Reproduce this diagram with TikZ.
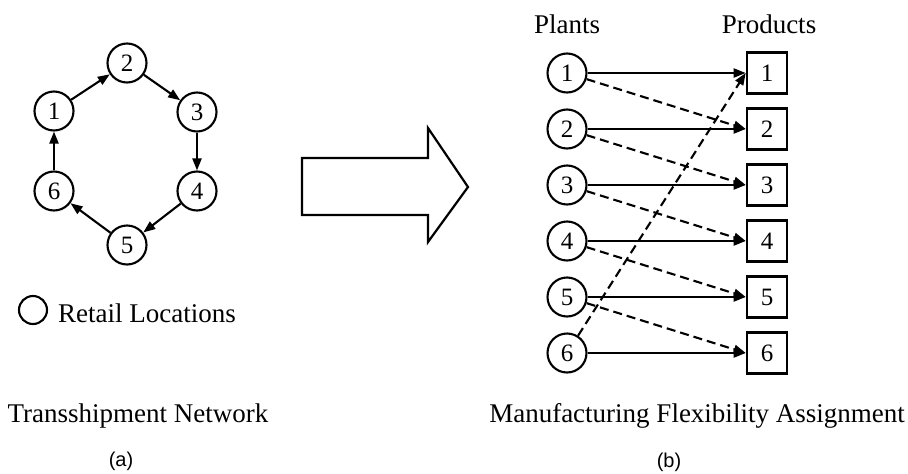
\documentclass[tikz,border=0pt]{standalone}
\usepackage{fontspec}
\setmainfont{Liberation Serif}
\setsansfont{Liberation Sans}
\usetikzlibrary{arrows.meta}
\begin{document}
\begin{tikzpicture}[x=1pt,y=-1pt,
  every node/.style={font=\fontsize{25}{28}\selectfont},
  loc/.style={draw,circle,line width=2.1pt,minimum size=39pt,inner sep=0pt},
  prod/.style={draw,rectangle,line width=2.6pt,minimum width=40pt,minimum height=41pt,inner sep=0pt},
  arr/.style={line width=2.1pt,-{Triangle[length=12pt,width=9pt]}},
  darr/.style={arr,dash pattern=on 9pt off 5pt},
  lbl/.style={font=\fontsize{27}{30}\selectfont,anchor=base,inner sep=0pt},
  sub/.style={font=\sffamily\fontsize{20}{24}\selectfont,inner sep=0pt}]
\useasboundingbox (0,0) rectangle (908,474);
% left network
\node[loc] (n1) at (54,111) {1};
\node[loc] (n2) at (127,63) {2};
\node[loc] (n3) at (197,112) {3};
\node[loc] (n4) at (197,191) {4};
\node[loc] (n5) at (127,245) {5};
\node[loc] (n6) at (54,191) {6};
\draw[arr] (n1) -- (n2);
\draw[arr] (n2) -- (n3);
\draw[arr] (n3) -- (n4);
\draw[arr] (n4) -- (n5);
\draw[arr] (n5) -- (n6);
\draw[arr] (n6) -- (n1);
\node[draw,circle,line width=2.1pt,minimum size=28pt,inner sep=0pt] (leg) at (33,310) {};
\node[lbl,anchor=base west] (legt) at (58,322) {Retail Locations};
\node[lbl] (ta) at (138,422) {Transshipment Network};
\node[sub] (la) at (121,461) {(a)};
% big arrow
\draw[line width=2.2pt,line join=miter] (302,158) -- (428,158) -- (428,128) -- (468,187) -- (428,242) -- (428,215) -- (302,215) -- cycle;
% right part
\node[lbl] (pl) at (567,33) {Plants};
\node[lbl] (pr) at (769,33) {Products};
\foreach \i/\y in {1/73,2/129,3/185,4/241,5/297,6/353}{
  \node[loc] (p\i) at (567,\y) {\i};
  \node[prod] (b\i) at (767,\y) {\i};
}
\foreach \i in {1,...,6}{\draw[arr] (p\i) -- (b\i);}
\foreach \i/\j in {1/2,2/3,3/4,4/5,5/6}{\draw[darr] (p\i) -- (b\j.west);}
\draw[darr] (p6) -- (b1.west);
\node[lbl] (tb) at (697,422) {Manufacturing Flexibility Assignment};
\node[sub] (lb) at (669,462) {(b)};
\end{tikzpicture}
\end{document}
